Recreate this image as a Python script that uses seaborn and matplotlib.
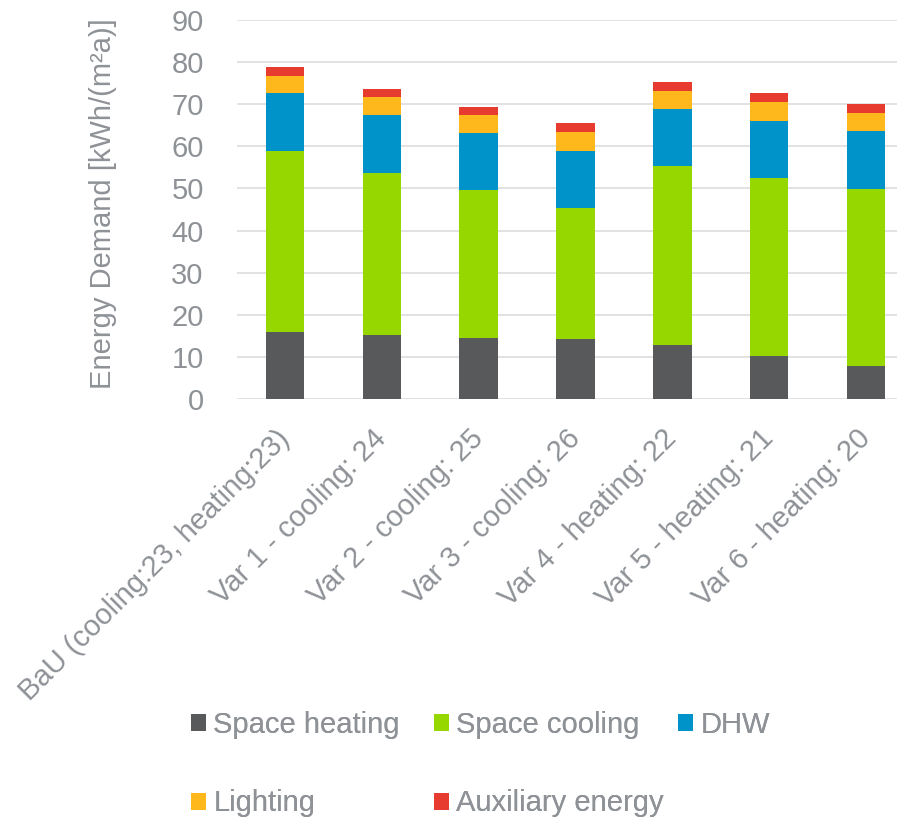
import numpy as np
import pandas as pd
import matplotlib
matplotlib.use("Agg")
import matplotlib.pyplot as plt
from matplotlib.patches import Patch
import seaborn as sns

# Scenarios and their annual energy demand by end use [kWh/(m²a)]
scenarios = [
    "BaU (cooling:23, heating:23)",
    "Var 1 - cooling: 24",
    "Var 2 - cooling: 25",
    "Var 3 - cooling: 26",
    "Var 4 - heating: 22",
    "Var 5 - heating: 21",
    "Var 6 - heating: 20",
]
space_heating = [16.0, 15.2, 14.5, 14.3, 12.9, 10.3, 7.9]
space_cooling = [42.8, 38.4, 35.2, 31.1, 42.5, 42.2, 41.9]
dhw = [13.8, 13.8, 13.4, 13.4, 13.4, 13.5, 13.8]
lighting = [4.2, 4.2, 4.3, 4.6, 4.3, 4.5, 4.4]
auxiliary = [2.1, 2.1, 2.0, 2.1, 2.1, 2.1, 2.1]

series_names = ["Space heating", "Space cooling", "DHW", "Lighting", "Auxiliary energy"]
series_values = [space_heating, space_cooling, dhw, lighting, auxiliary]
series_colors = ["#58595B", "#96D700", "#0093C9", "#FFB81C", "#E63B2E"]

y_ticks = [0, 10, 20, 30, 40, 50, 60, 70, 80, 90]
y_label = "Energy Demand [kWh/(m²a)]"

TEXT = "#8E9297"
FS = 21

sns.set_theme(style="white")
plt.rcParams["font.family"] = ["Liberation Sans", "DejaVu Sans"]

fig = plt.figure(figsize=(8.97, 8.17), dpi=100)
W, H = 897, 817
ax = fig.add_axes([237 / W, 1 - 399 / H, (W - 237) / W, (399 - 20) / H])

# stacked bars: draw cumulative totals from the top layer downward
df = pd.DataFrame({"scenario": scenarios})
cum = np.cumsum(np.array(series_values), axis=0)
for name, color, total in reversed(list(zip(series_names, series_colors, cum))):
    df[name] = total
    sns.barplot(data=df, x="scenario", y=name, color=color, width=0.398,
                saturation=1, ax=ax, zorder=3, linewidth=0)

ax.set_ylim(0, 90)
ax.set_yticks(y_ticks)
ax.set_xlim(-0.497, 6.321)
ax.grid(axis="y", color="#DADADA", linewidth=1.1, zorder=0)
ax.grid(axis="x", visible=False)
for s in ax.spines.values():
    s.set_visible(False)

ax.tick_params(axis="y", length=0, pad=24, labelsize=FS, labelcolor=TEXT)
ax.tick_params(axis="x", length=0, pad=25.5, labelsize=FS, labelcolor=TEXT)
ax.set_xlabel("")
ax.set_ylabel(y_label, fontsize=FS, color=TEXT)
ax.yaxis.set_label_coords((117 - 237) / (W - 237), 0.515)

ax.set_xticks(range(len(scenarios)))
ax.set_xticklabels(scenarios, rotation=45, ha="right", va="center",
                   rotation_mode="anchor")

# legend: three equally spaced columns, two rows
handles = {n: Patch(facecolor=c, edgecolor="none", label=n)
           for n, c in zip(series_names, series_colors)}
columns = [(191, ["Space heating", "Lighting"]),
           (434, ["Space cooling", "Auxiliary energy"]),
           (678, ["DHW"])]
for x0, names in columns:
    leg = fig.legend([handles[n] for n in names], names, loc="upper left",
                     bbox_to_anchor=(x0 / W, 1 - 711 / H), frameon=False,
                     fontsize=FS, handlelength=0.515, handleheight=0.515,
                     handletextpad=0.25, labelspacing=1.73,
                     borderpad=0, borderaxespad=0)
    for t in leg.get_texts():
        t.set_color(TEXT)
    fig.add_artist(leg)

fig.savefig("out.png", dpi=100, facecolor="white")
